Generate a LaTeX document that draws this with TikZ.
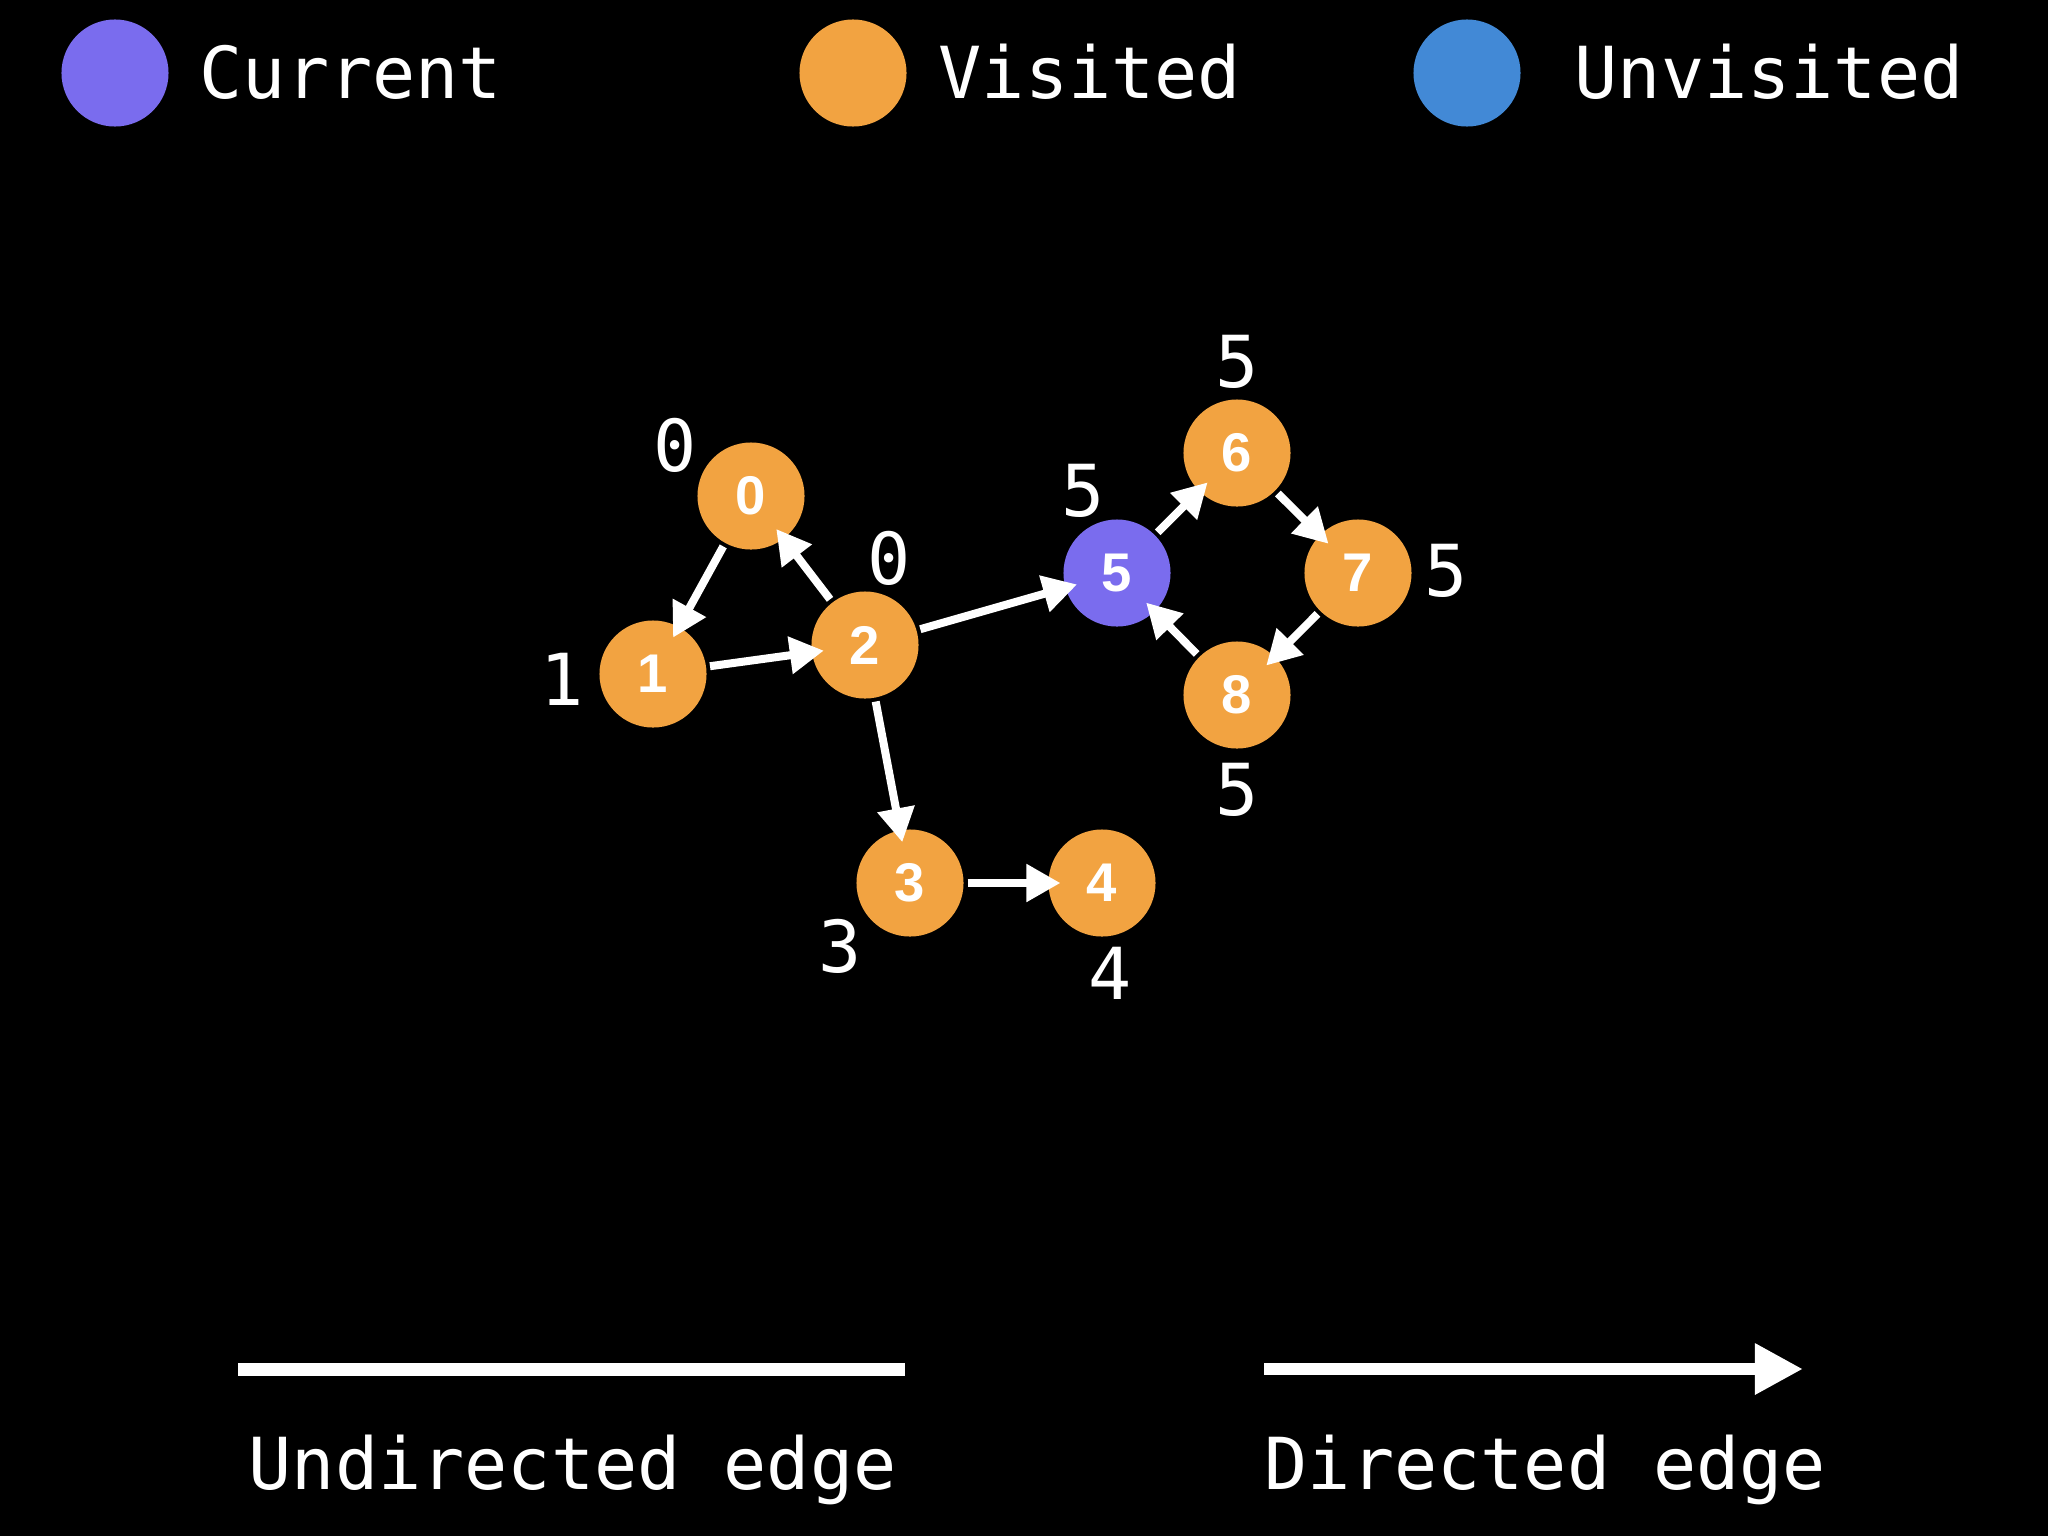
\documentclass[tikz,border=0pt]{standalone}
\usepackage{fontspec}
\setmainfont{Liberation Sans}
\newfontfamily\monofont{DejaVu Sans Mono}
\usetikzlibrary{arrows.meta}
\definecolor{cur}{HTML}{7A6CEE}
\definecolor{vis}{HTML}{F2A341}
\definecolor{unv}{HTML}{4289D6}
\begin{document}
\begin{tikzpicture}[x=0.01cm,y=-0.01cm,
  gnode/.style={circle,minimum size=1.07cm,inner sep=0pt,outer sep=0pt,text=white,font=\fontsize{15.5}{16}\selectfont\bfseries},
  vnode/.style={gnode,fill=vis},
  cnode/.style={gnode,fill=cur},
  lab/.style={text=white,inner sep=0pt,font=\monofont\fontsize{20.4}{24}\selectfont},
  gedge/.style={white,line width=0.08cm,-{Triangle[length=0.34cm,width=0.36cm]},shorten <=0.04cm,shorten >=-0.12cm}]
\fill[black] (0,0) rectangle (2048,1536);
\useasboundingbox (0,0) rectangle (2048,1536);
% legend
\node[gnode,fill=cur] (lc) at (115,73) {};
\node[gnode,fill=vis] (lv) at (853,73) {};
\node[gnode,fill=unv] (lu) at (1467,73) {};
\node[lab,anchor=base west] (tc) at (199,98) {Current};
\node[lab,anchor=base west] (tv) at (938,98) {Visited};
\node[lab,anchor=base west] (tu) at (1574,98) {Unvisited};
% graph nodes
\node[vnode] (n0) at (751,496) {0};
\node[vnode] (n1) at (653,674) {1};
\node[vnode] (n2) at (865,645) {2};
\node[vnode] (n3) at (910,883) {3};
\node[vnode] (n4) at (1102,883) {4};
\node[cnode] (n5) at (1117,573) {5};
\node[vnode] (n6) at (1237,453) {6};
\node[vnode] (n7) at (1358,573) {7};
\node[vnode] (n8) at (1237,695) {8};
% labels
\node[lab] (l0) at (675,445) {0};
\node[lab] (l2) at (889,558) {0};
\node[lab] (l1) at (562,679) {1};
\node[lab] (l3) at (840,946) {3};
\node[lab] (l4) at (1110,973) {4};
\node[lab] (l5) at (1083,491) {5};
\node[lab] (l6) at (1237,362) {5};
\node[lab] (l7) at (1446,571) {5};
\node[lab] (l8) at (1237,790) {5};
% edges
\draw[gedge] (n0) -- (n1);
\draw[gedge] (n1) -- (n2);
\draw[gedge] (n2) -- (n0);
\draw[gedge] (n2) -- (n5);
\draw[gedge] (n2) -- (n3);
\draw[gedge] (n3) -- (n4);
\draw[gedge] (n5) -- (n6);
\draw[gedge] (n6) -- (n7);
\draw[gedge] (n7) -- (n8);
\draw[gedge] (n8) -- (n5);
% bottom legend
\coordinate (u1) at (238,1369);
\coordinate (u2) at (905,1369);
\coordinate (d1) at (1264,1369);
\coordinate (d2) at (1803,1369);
\draw[white,line width=0.13cm] (u1) -- (u2);
\draw[white,line width=0.12cm,-{Triangle[length=0.48cm,width=0.48cm]}] (d1) -- (d2);
\node[lab,anchor=base west] (tu2) at (248,1489) {Undirected edge};
\node[lab,anchor=base west] (td) at (1264,1489) {Directed edge};
\end{tikzpicture}
\end{document}
